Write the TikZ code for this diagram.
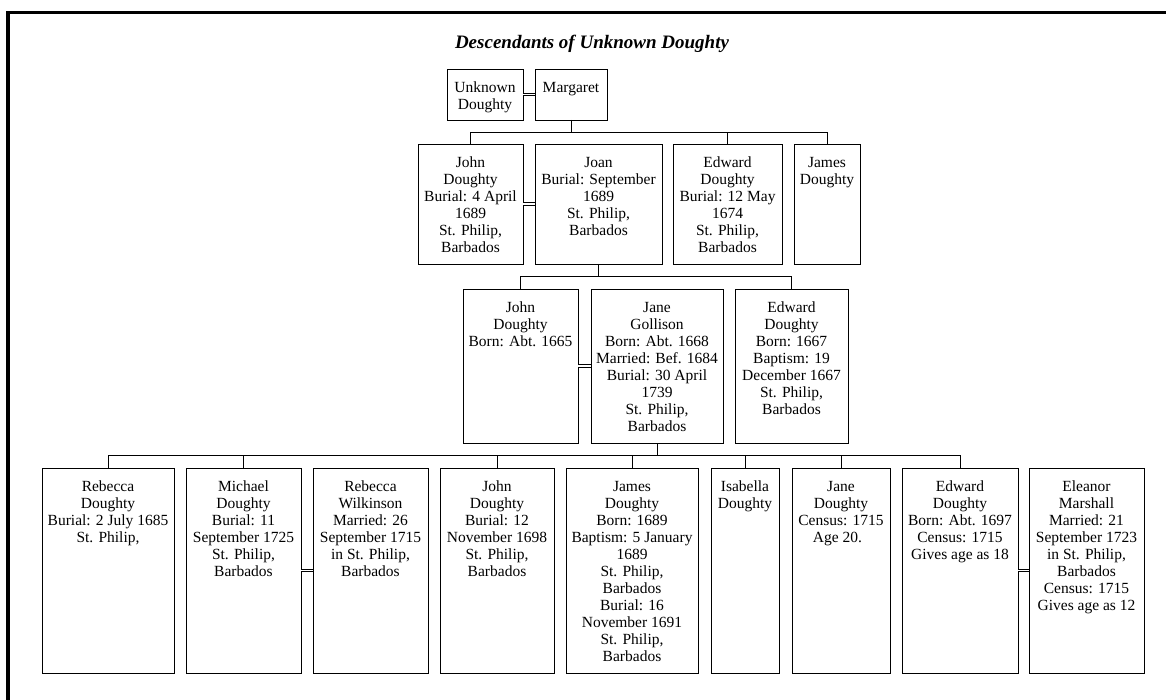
\documentclass[tikz,border=0pt]{standalone}
\usepackage{fontspec}
\setmainfont{Liberation Serif}
% one person: name, x1, y1, x2, y2, text (top-aligned inside the box;
% the strut fixes the first baseline 23pt below the box top)
\newcommand\person[6]{%
  \node[box, minimum width={(#4-#2)*1pt}, minimum height={(#5-#3)*1pt}]
    (#1) at ({(#2+#4)/2},{(#3+#5)/2}) {};
  \node[info, anchor=north] (#1-t) at ({(#2+#4)/2},{#3+11}) {\rule{0pt}{12pt}#6};}
\begin{document}
\begin{tikzpicture}[x=1pt,y=-1pt,
  box/.style={draw, line width=0.9pt, inner sep=0pt, outer sep=0pt},
  info/.style={align=center, inner sep=0pt, font=\fontsize{15.5}{17}\selectfont},
  link/.style={line width=0.9pt},
  wed/.style={draw, double, line width=0.8pt, double distance=1.9pt,
              shorten <=0.45pt, shorten >=0.45pt}]
\useasboundingbox (0,0) rectangle (1166,700);

% page frame
\draw[line width=3.5pt] (8,720) -- (8,12.5) -- (1180,12.5);

\node[font=\fontsize{19}{22}\selectfont\bfseries\itshape, anchor=base]
  (title) at (592,49) {Descendants of Unknown Doughty};

% generation 1
\person{ud}{447}{69}{523}{120}{Unknown\\Doughty}
\person{marg}{535}{69}{607}{120}{Margaret}

% generation 2
\person{john1}{418}{144}{523}{264}{John\\Doughty\\Burial: 4 April\\1689\\St. Philip,\\Barbados}
\person{joan}{535}{144}{662}{264}{Joan\\Burial: September\\1689\\St. Philip,\\Barbados}
\person{edw1}{673}{144}{782}{264}{Edward\\Doughty\\Burial: 12 May\\1674\\St. Philip,\\Barbados}
\person{james1}{794}{144}{860}{264}{James\\Doughty}

% generation 3
\person{john2}{463}{289}{578}{443}{John\\Doughty\\Born: Abt. 1665}
\person{jane}{591}{289}{723}{443}{Jane\\Gollison\\Born: Abt. 1668\\Married: Bef. 1684\\Burial: 30 April\\1739\\St. Philip,\\Barbados}
\person{edw2}{735}{289}{848}{443}{Edward\\Doughty\\Born: 1667\\Baptism: 19\\December 1667\\St. Philip,\\Barbados}

% generation 4
\person{reb}{42}{468}{174}{673}{Rebecca\\Doughty\\Burial: 2 July 1685\\St. Philip,}
\person{mich}{186}{468}{301}{673}{Michael\\Doughty\\Burial: 11\\September 1725\\St. Philip,\\Barbados}
\person{rebw}{313}{468}{428}{673}{Rebecca\\Wilkinson\\Married: 26\\September 1715\\in St. Philip,\\Barbados}
\person{john3}{440}{468}{554}{673}{John\\Doughty\\Burial: 12\\November 1698\\St. Philip,\\Barbados}
\person{james3}{566}{468}{698}{673}{James\\Doughty\\Born: 1689\\Baptism: 5 January\\1689\\St. Philip,\\Barbados\\Burial: 16\\November 1691\\St. Philip,\\Barbados}
\person{isa}{711}{468}{779}{673}{Isabella\\Doughty}
\person{jane3}{792}{468}{890}{673}{Jane\\Doughty\\Census: 1715\\Age 20.\hspace*{7pt}}
\person{edw3}{902}{468}{1018}{673}{Edward\\Doughty\\Born: Abt. 1697\\Census: 1715\\Gives age as 18}
\person{ele}{1029}{468}{1144}{673}{Eleanor\\Marshall\\Married: 21\\September 1723\\in St. Philip,\\Barbados\\Census: 1715\\Gives age as 12}

% marriages
\draw[wed] (ud.east) -- (marg.west);
\draw[wed] (john1.east) -- (joan.west);
\draw[wed] (john2.east) -- (jane.west);
\draw[wed] (mich.east) -- (rebw.west);
\draw[wed] (edw3.east) -- (ele.west);

% descent lines
\draw[link] (marg.south) -- ++(0,12.3);
\draw[link] (john1.north) -- ++(0,-12) -| (james1.north);
\draw[link] (edw1.north) -- ++(0,-12);

\draw[link] (joan.south) -- ++(0,12.4);
\draw[link] (john2.north) -- ++(0,-12.4) -| (edw2.north);

\draw[link] (jane.south) -- ++(0,11.7);
\draw[link] (reb.north) -- ++(0,-12.7) -| (edw3.north);
\foreach \c in {mich,john3,james3,isa,jane3}
  \draw[link] (\c.north) -- ++(0,-12.7);
\end{tikzpicture}
\end{document}
